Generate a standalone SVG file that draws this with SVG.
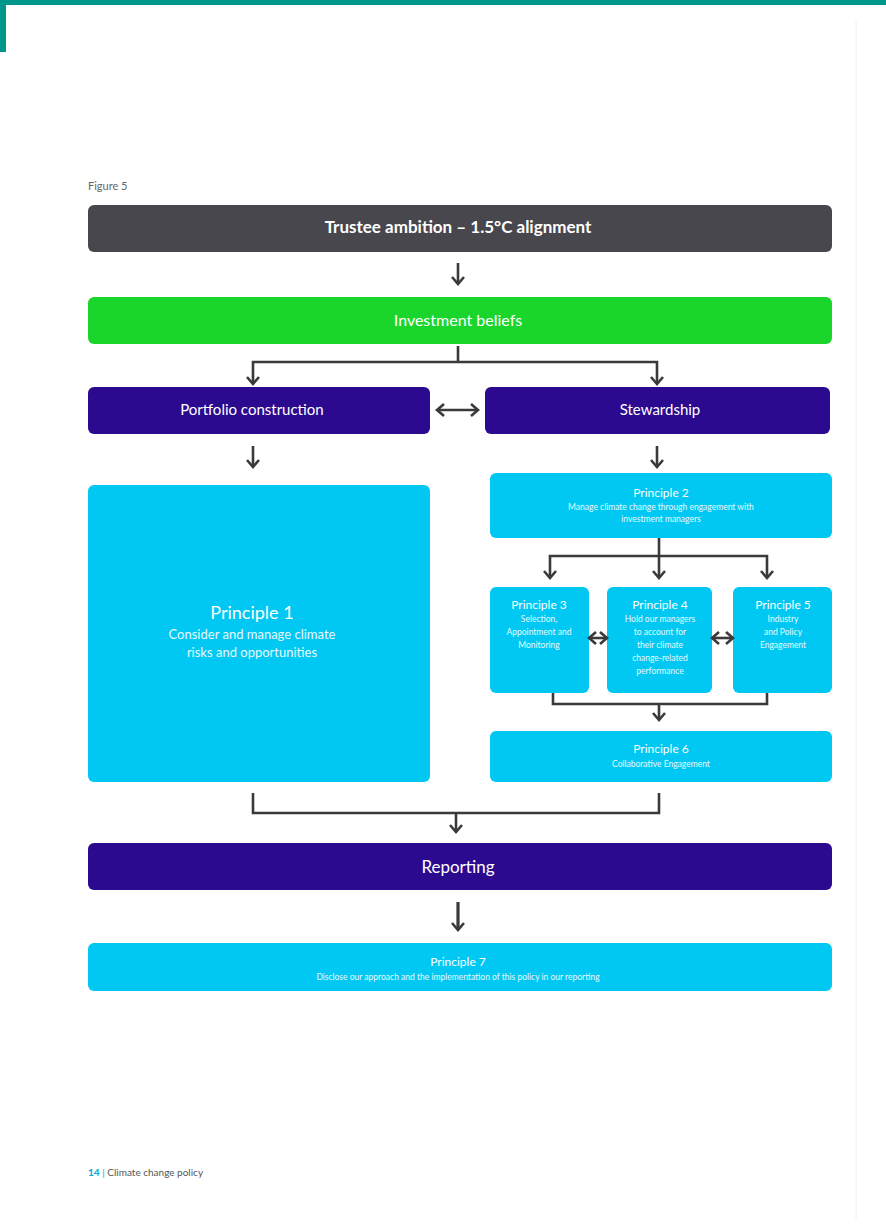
<svg xmlns="http://www.w3.org/2000/svg" width="886" height="1229" viewBox="0 0 886 1229">
<style>
.t{font-family:Lato,"Noto Sans","Liberation Sans",sans-serif;fill:#fff;text-anchor:middle}
.h{font-size:16px;font-weight:bold}
.p{font-size:12px}
.s{font-size:8.5px;fill:#e6f9ff}
.con{fill:none;stroke:#3a3a3a;stroke-width:2.6}
.dark{fill:#48474d}.green{fill:#1ad62c}.ind{fill:#2b0a90}.cy{fill:#00c8f2}
</style>
<defs>
<marker id="ah" markerUnits="userSpaceOnUse" markerWidth="14" markerHeight="16" viewBox="0 0 14 16" refX="11" refY="8" orient="auto-start-reverse">
<path d="M4,2 L11,8 L4,14" fill="none" stroke="#3a3a3a" stroke-width="2.6"/>
</marker>
</defs>
<rect x="0" y="0" width="886" height="1229" fill="#fff"/>
<rect x="0" y="0" width="886" height="5" fill="#00968a"/>
<rect x="0" y="0" width="6" height="52" fill="#00968a"/>
<line x1="856" y1="20" x2="856" y2="1220" stroke="#f0f0f0" stroke-width="1"/>
<text x="88" y="190" style="font-family:Lato,'Liberation Sans',sans-serif;font-size:11px;fill:#666">Figure 5</text>

<g id="trustee"><rect x="88" y="205" width="744" height="47" rx="6" class="dark"/><text x="458" y="233" class="t h" style="font-size:17px">Trustee ambition – 1.5°C alignment</text></g>
<g id="beliefs"><rect x="88" y="297" width="744" height="47" rx="6" class="green"/><text x="458" y="326" class="t" style="font-size:16px">Investment beliefs</text></g>
<g id="portfolio"><rect x="88" y="387" width="342" height="47" rx="6" class="ind"/><text x="252" y="415" class="t" style="font-size:15px">Portfolio construction</text></g>
<g id="stewardship"><rect x="485" y="387" width="345" height="47" rx="6" class="ind"/><text x="660" y="415" class="t" style="font-size:15px">Stewardship</text></g>
<g id="p1"><rect x="88" y="485" width="342" height="297" rx="6" class="cy"/><text x="252" y="619" class="t" style="font-size:18px">Principle 1</text><text x="252" y="639" class="t" style="font-size:13px;fill:#e6f9ff">Consider and manage climate</text><text x="252" y="657" class="t" style="font-size:13px;fill:#e6f9ff">risks and opportunities</text></g>
<g id="p2"><rect x="490" y="473" width="342" height="65" rx="6" class="cy"/><text x="661" y="497" class="t p">Principle 2</text><text x="661" y="510" class="t s">Manage climate change through engagement with</text><text x="661" y="522" class="t s">investment managers</text></g>
<g id="p3"><rect x="490" y="587" width="99" height="106" rx="6" class="cy"/><text x="539" y="609" class="t p">Principle 3</text><text x="539" y="622" class="t s">Selection,</text><text x="539" y="635" class="t s">Appointment and</text><text x="539" y="648" class="t s">Monitoring</text></g>
<g id="p4"><rect x="607" y="587" width="105" height="106" rx="6" class="cy"/><text x="660" y="609" class="t p">Principle 4</text><text x="660" y="622" class="t s">Hold our managers</text><text x="660" y="635" class="t s">to account for</text><text x="660" y="648" class="t s">their climate</text><text x="660" y="661" class="t s">change-related</text><text x="660" y="674" class="t s">performance</text></g>
<g id="p5"><rect x="733" y="587" width="99" height="106" rx="6" class="cy"/><text x="783" y="609" class="t p">Principle 5</text><text x="783" y="622" class="t s">Industry</text><text x="783" y="635" class="t s">and Policy</text><text x="783" y="648" class="t s">Engagement</text></g>
<g id="p6"><rect x="490" y="731" width="342" height="51" rx="6" class="cy"/><text x="661" y="753" class="t p">Principle 6</text><text x="661" y="767" class="t s">Collaborative Engagement</text></g>
<g id="reporting"><rect x="88" y="843" width="744" height="47" rx="6" class="ind"/><text x="458" y="873" class="t" style="font-size:17px">Reporting</text></g>
<g id="p7"><rect x="88" y="943" width="744" height="48" rx="6" class="cy"/><text x="458" y="966" class="t p">Principle 7</text><text x="458" y="980" class="t s">Disclose our approach and the implementation of this policy in our reporting</text></g>

<g id="connectors">
<line x1="458" y1="263" x2="458" y2="284" class="con" marker-end="url(#ah)"/>
<polyline points="458,346 458,362" class="con"/>
<polyline points="253,384 253,362 657,362 657,384" class="con" marker-start="url(#ah)" marker-end="url(#ah)"/>
<line x1="437" y1="410" x2="478" y2="410" class="con" marker-start="url(#ah)" marker-end="url(#ah)"/>
<line x1="253" y1="446" x2="253" y2="467" class="con" marker-end="url(#ah)"/>
<line x1="657" y1="446" x2="657" y2="467" class="con" marker-end="url(#ah)"/>
<polyline points="659,538 659,556" class="con"/>
<polyline points="550,578 550,556 767,556 767,578" class="con" marker-start="url(#ah)" marker-end="url(#ah)"/>
<line x1="659" y1="556" x2="659" y2="578" class="con" marker-end="url(#ah)"/>
<line x1="589" y1="638" x2="607" y2="638" class="con" marker-start="url(#ah)" marker-end="url(#ah)"/>
<line x1="712" y1="638" x2="733" y2="638" class="con" marker-start="url(#ah)" marker-end="url(#ah)"/>
<polyline points="553,693 553,704 767,704 767,693" class="con"/>
<line x1="659" y1="704" x2="659" y2="720" class="con" marker-end="url(#ah)"/>
<polyline points="253,793 253,813 659,813 659,793" class="con"/>
<line x1="456" y1="813" x2="456" y2="832" class="con" marker-end="url(#ah)"/>
<line x1="458" y1="902" x2="458" y2="930" class="con" style="stroke-width:3.2" marker-end="url(#ah)"/>
</g>
<text x="88" y="1176" style="font-family:Lato,'Liberation Sans',sans-serif;font-size:10px;fill:#555"><tspan fill="#00a9d6" font-weight="bold">14</tspan><tspan fill="#00a9d6"> | </tspan>Climate change policy</text>
</svg>
